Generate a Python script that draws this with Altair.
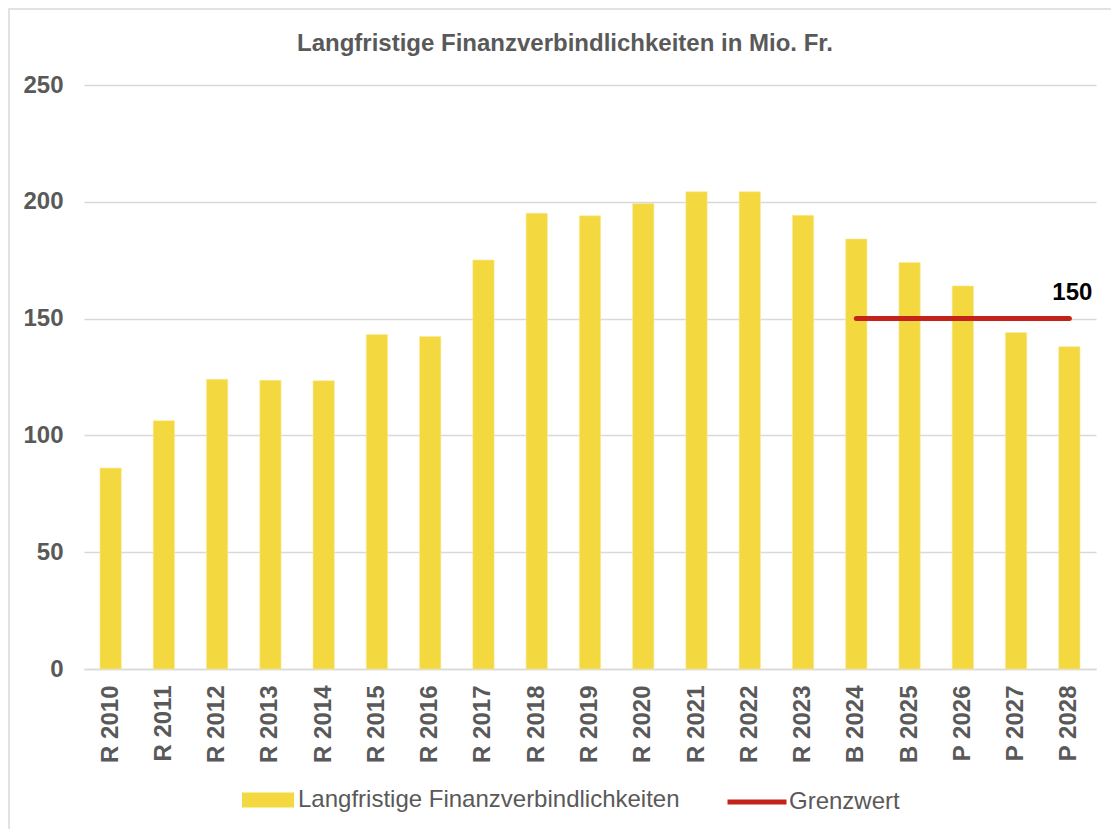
import altair as alt
import pandas as pd

# ---- data ----
categories = ["R 2010", "R 2011", "R 2012", "R 2013", "R 2014", "R 2015", "R 2016",
              "R 2017", "R 2018", "R 2019", "R 2020", "R 2021", "R 2022", "R 2023",
              "B 2024", "B 2025", "P 2026", "P 2027", "P 2028"]
values = [86, 106.3, 124, 123.6, 123.4, 143.2, 142.3, 175.1, 195.1, 194, 199.3,
          204.3, 204.3, 194.2, 184.1, 174, 164, 144, 138]
series_bar = "Langfristige Finanzverbindlichkeiten"
series_line = "Grenzwert"
limit_value = 150
limit_start = "B 2024"
limit_end = "P 2028"
title_text = "Langfristige Finanzverbindlichkeiten in Mio. Fr."
y_ticks = [0, 50, 100, 150, 200, 250]

FONT = "Liberation Sans"
GRAY = "#595959"
GRID = "#D9D9D9"
YELLOW = "#F4D840"
RED = "#C4231A"

df = pd.DataFrame({"cat": categories, "val": values, "series": series_bar})
df_limit = pd.DataFrame({"start": [limit_start], "end": [limit_end],
                         "val": [limit_value], "series": [series_line],
                         "label": [str(limit_value)]})
df_title = pd.DataFrame({"t": [title_text]})

x_scale = alt.Scale(domain=categories, paddingInner=0.6, paddingOuter=0.3)
y_scale = alt.Scale(domain=[0, 250], nice=False)

bars = alt.Chart(df).mark_bar(stroke="#FBEA9A", strokeWidth=0.6).encode(
    x=alt.X("cat:N", scale=x_scale, sort=categories, title=None,
            axis=alt.Axis(labelAngle=-90, labelFont=FONT, labelFontSize=24,
                          labelFontWeight="bold", labelColor=GRAY, ticks=False,
                          tickSize=0, labelPadding=16, domainColor=GRID,
                          domainWidth=1.5, grid=False)),
    y=alt.Y("val:Q", scale=y_scale, title=None,
            axis=alt.Axis(values=y_ticks, labelFont=FONT, labelFontSize=24,
                          labelFontWeight="bold", labelColor=GRAY, ticks=False,
                          tickSize=0, domain=False, labelPadding=21,
                          gridColor=GRID, gridWidth=1.5)),
    fill=alt.Fill("series:N",
                  scale=alt.Scale(domain=[series_bar], range=[YELLOW]),
                  legend=alt.Legend(title=None, orient="none", legendX=158,
                                    legendY=689, labelFont=FONT, labelFontSize=24,
                                    labelColor=GRAY, labelOffset=4, labelLimit=0,
                                    symbolType="M-1,-0.29H1V0.29H-1Z",
                                    symbolSize=2704, symbolStrokeWidth=0,
                                    padding=0)),
)

rule = alt.Chart(df_limit).mark_rule(strokeWidth=5, strokeCap="round").encode(
    x=alt.X("start:N", scale=x_scale, sort=categories),
    x2="end:N",
    y=alt.Y("val:Q", scale=y_scale),
    stroke=alt.Stroke("series:N",
                      scale=alt.Scale(domain=[series_line], range=[RED]),
                      legend=alt.Legend(title=None, orient="none", legendX=641,
                                        legendY=685, labelFont=FONT,
                                        labelFontSize=24, labelColor=GRAY,
                                        labelOffset=0, labelLimit=0,
                                        symbolType="stroke",
                                        symbolSize=3481, symbolStrokeWidth=5,
                                        padding=0)),
)

limit_label = alt.Chart(df_limit).mark_text(
    font=FONT, fontSize=24, fontWeight="bold", color="#000000",
    align="center", baseline="alphabetic", dx=3, dy=-19
).encode(
    x=alt.X("end:N", scale=x_scale, sort=categories),
    y=alt.Y("val:Q", scale=y_scale),
    text="label:N",
)

title = alt.Chart(df_title).mark_text(
    font=FONT, fontSize=24, fontWeight="bold", color=GRAY,
    align="center", baseline="alphabetic"
).encode(x=alt.value(481), y=alt.value(-34), text="t:N")

border = alt.Chart(df_title).mark_rect(
    fill=None, fillOpacity=0, stroke=GRID, strokeWidth=1.5
).encode(x=alt.value(-75), x2=alt.value(1060), y=alt.value(-76),
         y2=alt.value(800))

chart = alt.layer(border, bars, rule, limit_label, title).resolve_scale(
    fill="independent", stroke="independent"
).properties(
    width=1012, height=584,
    autosize=alt.AutoSizeParams(type="none"),
    padding={"left": 76, "top": 77, "right": 15, "bottom": 160},
    background="#FFFFFF",
).configure_view(stroke=None)

chart.save("out.html", embed_options={"renderer": "svg", "actions": False})
